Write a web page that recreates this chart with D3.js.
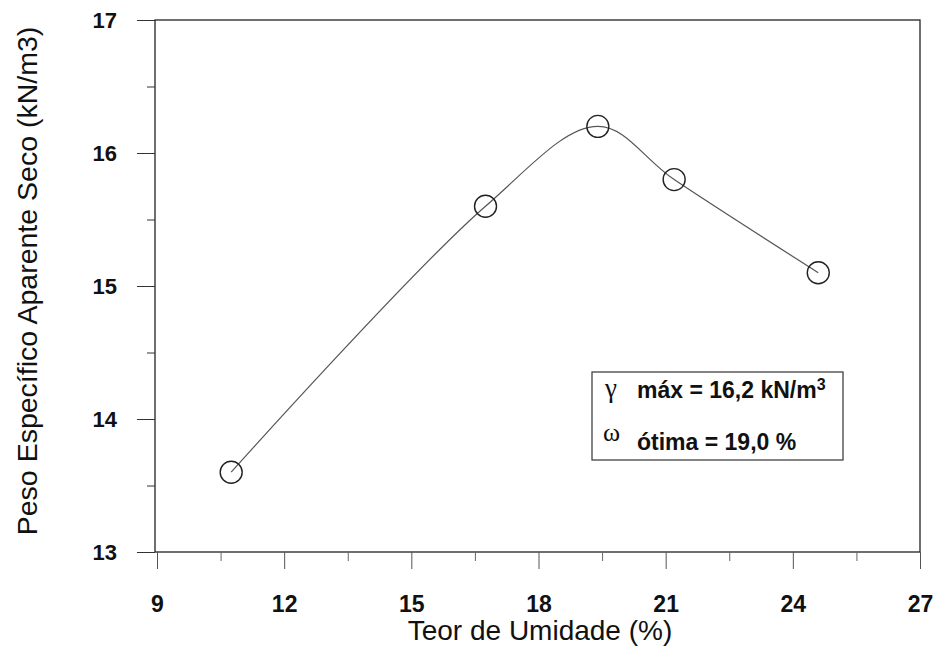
<!DOCTYPE html>
<html><head><meta charset="utf-8">
<script src="https://cdn.jsdelivr.net/npm/d3@7"></script>
<style>
body{margin:0;background:#fff;}
svg{display:block;}
text{font-family:"Liberation Sans",Arial,sans-serif;fill:#111;}
</style></head>
<body><svg id="c" width="936" height="647"></svg>
<script>
const moisture = [10.75, 16.75, 19.4, 21.2, 24.6];
const density  = [13.6, 15.6, 16.2, 15.8, 15.1];
const xTicks = [9, 12, 15, 18, 21, 24, 27];
const xMinor = [10.5, 13.5, 16.5, 19.5, 22.5, 25.5];
const yTicks = [13, 14, 15, 16, 17];
const yMinor = [13.5, 14.5, 15.5, 16.5];
const xTitle = "Teor de Umidade (%)";
const yTitle = "Peso Específico Aparente Seco (kN/m3)";
const legendGamma = ["γ", "máx = 16,2 kN/m", "3"];
const legendOmega = ["ω", "ótima = 19,0 %"];

const svg = d3.select("#c");
const L = 155, R = 920, T = 20, B = 552;
const x = d3.scaleLinear().domain([9, 27]).range([157, R]);
const y = d3.scaleLinear().domain([13, 17]).range([B, T]);

// frame
svg.append("rect").attr("x", L).attr("y", T).attr("width", R - L).attr("height", B - T)
  .attr("fill", "none").attr("stroke", "#222").attr("stroke-width", 1.3);

// x axis
const gx = svg.append("g").attr("transform", `translate(0,${B})`)
  .call(d3.axisBottom(x).tickValues(xTicks).tickSize(17).tickPadding(27).tickFormat(d3.format("d")));
gx.select(".domain").remove();
gx.selectAll("line").attr("stroke", "#555");
gx.selectAll("text").style("font-size", "23px").style("font-weight", "bold").attr("fill", "#111");
const gxm = svg.append("g").attr("transform", `translate(0,${B})`)
  .call(d3.axisBottom(x).tickValues(xMinor).tickSize(9).tickFormat(""));
gxm.select(".domain").remove();
gxm.selectAll("line").attr("stroke", "#666");

// y axis
const gy = svg.append("g").attr("transform", `translate(${L},0)`)
  .call(d3.axisLeft(y).tickValues(yTicks).tickSize(18).tickPadding(20).tickFormat(d3.format("d")));
gy.select(".domain").remove();
gy.selectAll("line").attr("stroke", "#333");
gy.selectAll("text").style("font-size", "22px").style("font-weight", "bold").attr("fill", "#111");
const gym = svg.append("g").attr("transform", `translate(${L},0)`)
  .call(d3.axisLeft(y).tickValues(yMinor).tickSize(8).tickFormat(""));
gym.select(".domain").remove();
gym.selectAll("line").attr("stroke", "#333");

// titles
svg.append("text").attr("x", 540).attr("y", 640).attr("text-anchor", "middle")
  .style("font-size", "28px").text(xTitle);
svg.append("text").attr("transform", "translate(37,281) rotate(-90)").attr("text-anchor", "middle")
  .style("font-size", "28.5px").text(yTitle);

// curve
const pts = moisture.map((m, i) => [m, density[i]]);
const line = d3.line().x(d => x(d[0])).y(d => y(d[1])).curve(d3.curveCatmullRom.alpha(0.5));
svg.append("path").attr("d", line(pts)).attr("fill", "none")
  .attr("stroke", "#555").attr("stroke-width", 1.2);

svg.selectAll("circle.pt").data(pts).join("circle").attr("class", "pt")
  .attr("cx", d => x(d[0])).attr("cy", d => y(d[1])).attr("r", 11)
  .attr("fill", "none").attr("stroke", "#222").attr("stroke-width", 1.4);

// legend box
svg.append("rect").attr("x", 592).attr("y", 372).attr("width", 251).attr("height", 88)
  .attr("fill", "#fff").attr("stroke", "#333").attr("stroke-width", 1.2);
svg.append("text").attr("x", 605).attr("y", 397).style("font-family", "'Liberation Serif',serif")
  .style("font-size", "27px").text(legendGamma[0]);
const t1 = svg.append("text").attr("x", 637).attr("y", 398).style("font-size", "23px").style("font-weight", "bold");
t1.append("tspan").text(legendGamma[1]);
t1.append("tspan").attr("dy", -8).style("font-size", "16px").text(legendGamma[2]);
svg.append("text").attr("x", 603).attr("y", 441).style("font-family", "'Liberation Serif',serif")
  .style("font-size", "26px").text(legendOmega[0]);
svg.append("text").attr("x", 637).attr("y", 450).style("font-size", "23px").style("font-weight", "bold")
  .text(legendOmega[1]);
</script></body></html>
